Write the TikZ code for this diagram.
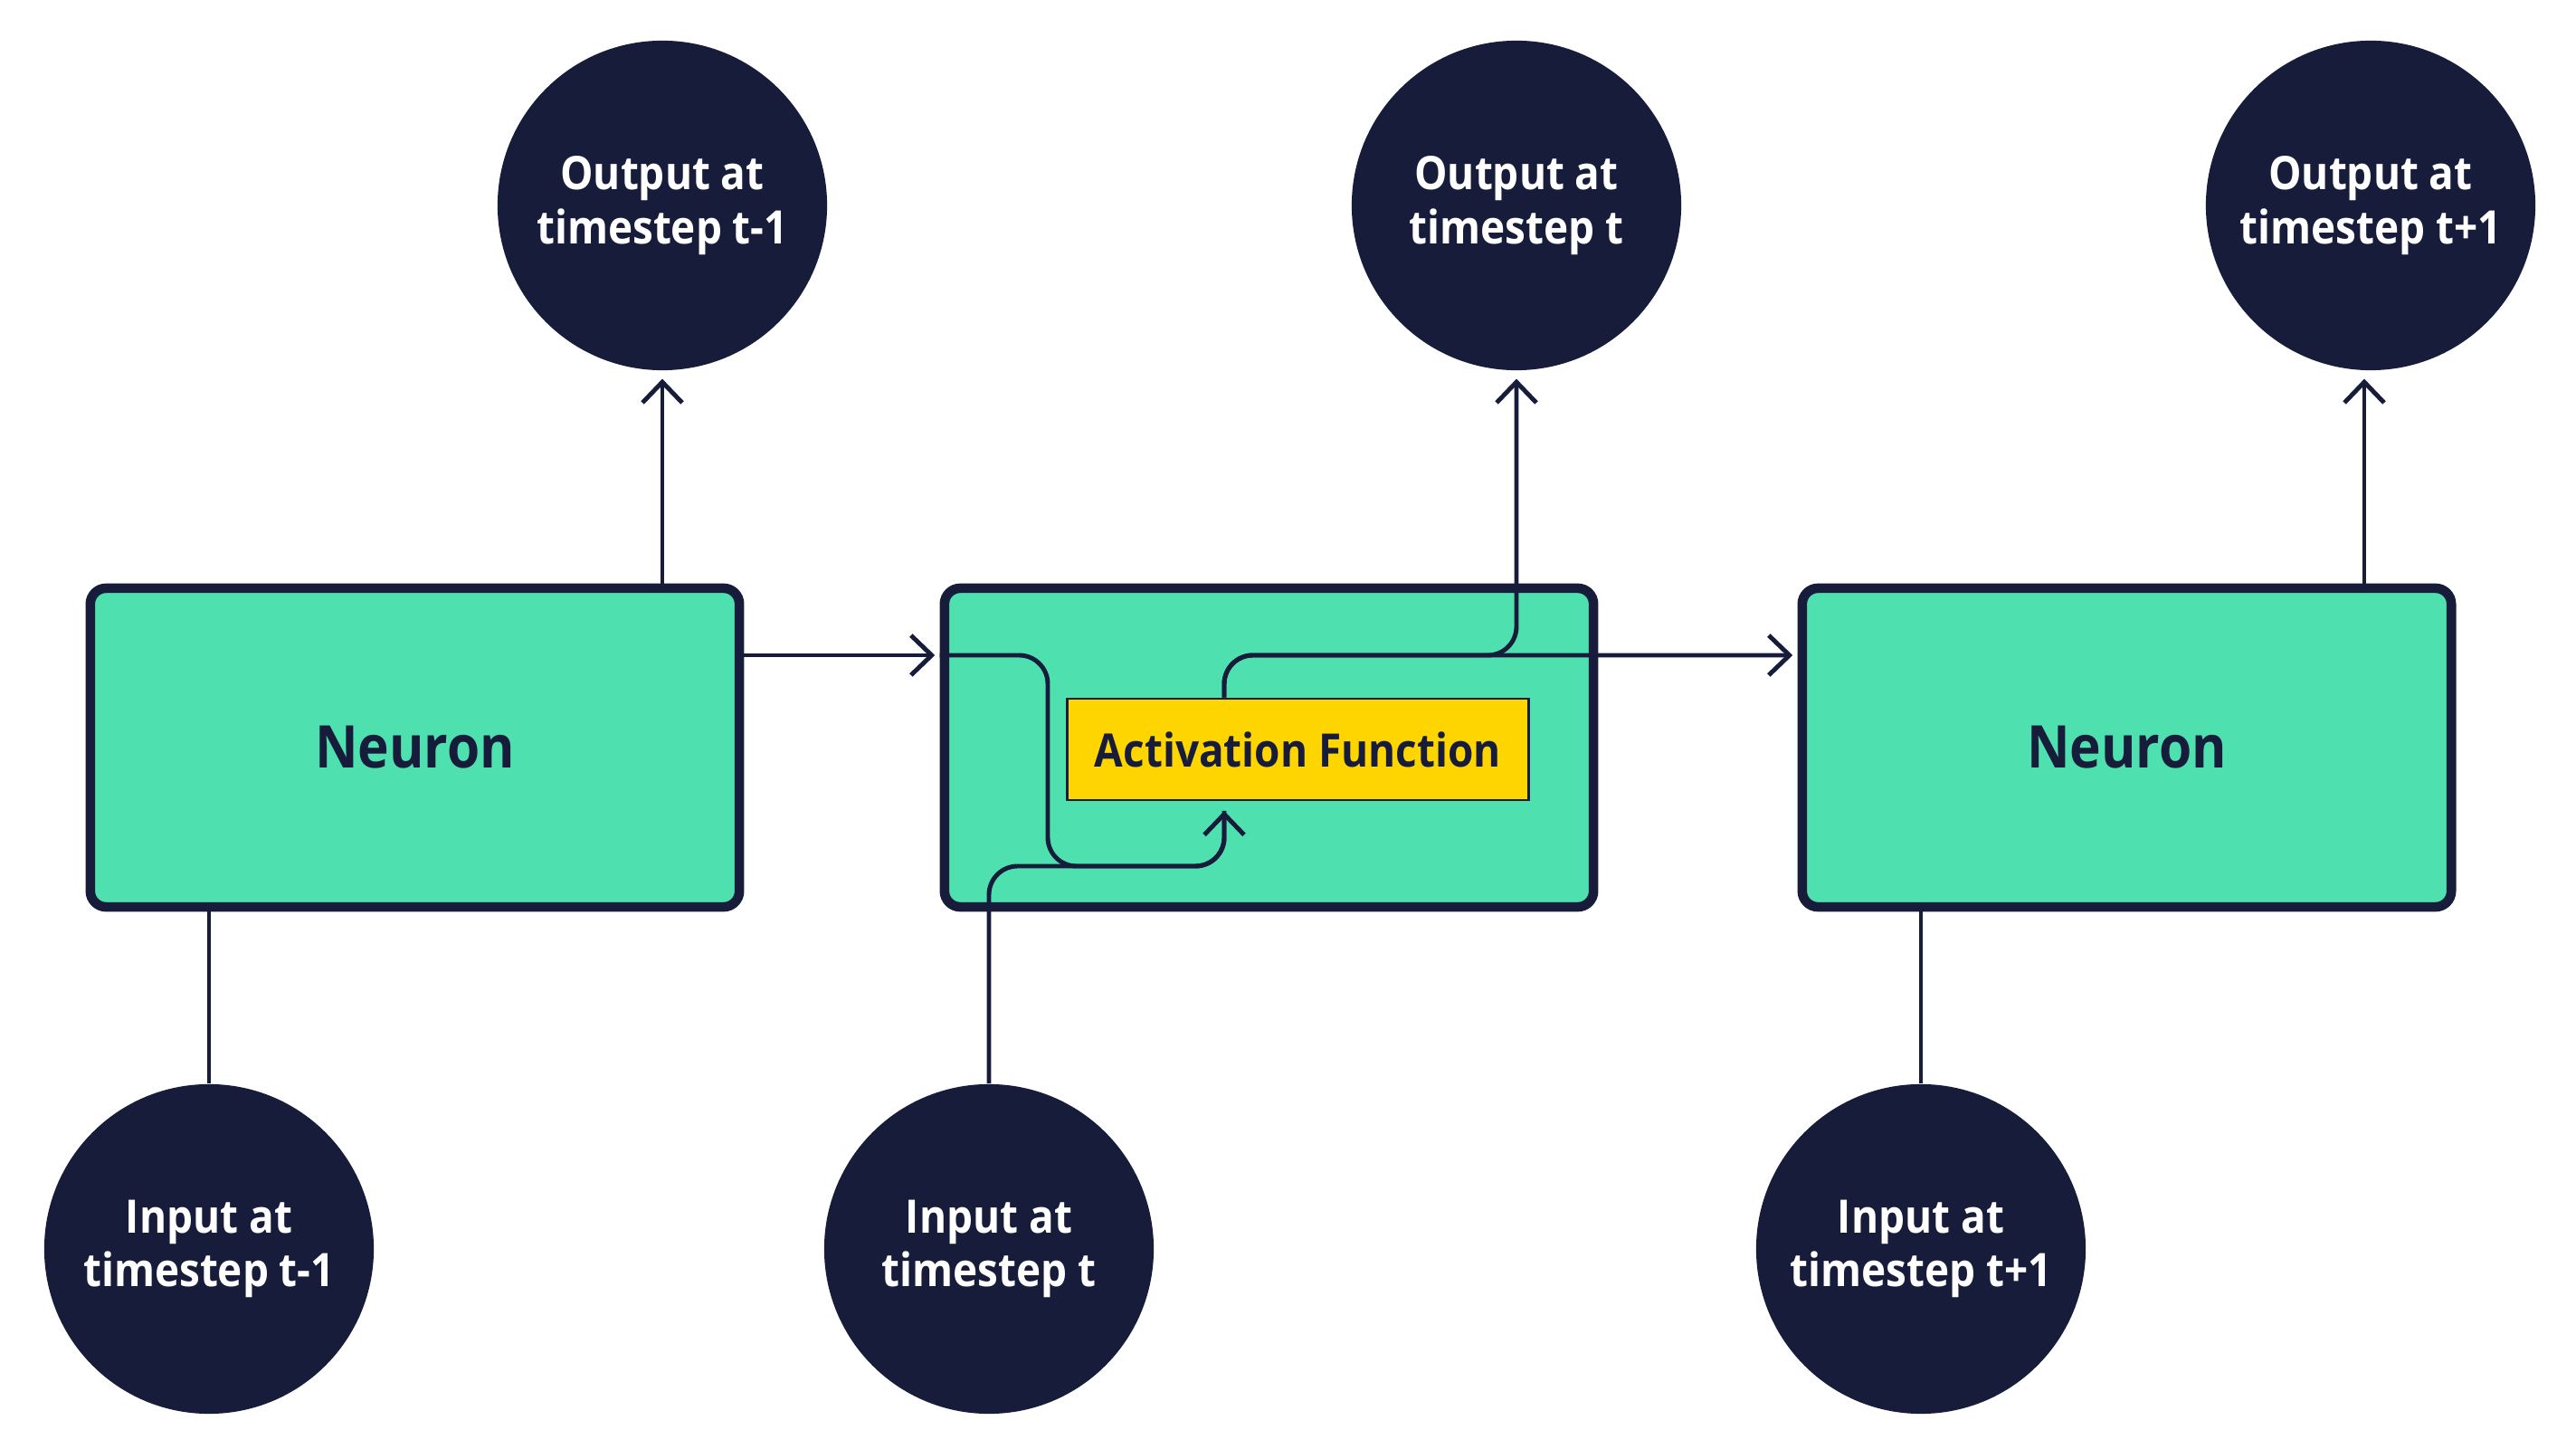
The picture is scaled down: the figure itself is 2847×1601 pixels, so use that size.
\documentclass[tikz,border=0pt]{standalone}
\usepackage{fontspec}
\setmainfont{Open Sans}
\newfontfamily\nfont{Open Sans}[FakeStretch=0.9]
\usetikzlibrary{arrows.meta}
\definecolor{navy}{HTML}{161C3A}
\definecolor{mint}{HTML}{4FE0B0}
\definecolor{gold}{HTML}{FFD500}
\begin{document}
\begin{tikzpicture}[x=0.01cm,y=-0.01cm,
  neuronbox/.style={draw=navy, line width=3pt, fill=mint, rounded corners=5pt,
    minimum width=7.17cm, minimum height=3.52cm, inner sep=0pt,
    font=\nfont\bfseries\fontsize{18.5}{22}\selectfont, text=navy},
  tcircle/.style={circle, fill=navy, minimum size=3.64cm, inner sep=0pt,
    font=\nfont\bfseries\fontsize{14.5}{17}\selectfont, text=white, align=center},
  actbox/.style={draw=navy, line width=0.8pt, fill=gold, minimum width=5.09cm,
    minimum height=1.12cm, inner sep=0pt,
    font=\nfont\bfseries\fontsize{14.5}{16}\selectfont, text=navy},
  conn/.style={draw=navy, line width=1.4pt},
  arr/.style={-{Straight Barb[length=6.5pt,width=12.5pt]}}
]
\useasboundingbox (0,0) rectangle (2847,1601);

% circles
\node[tcircle] (out1) at (732,227) {Output at\\timestep t-1};
\node[tcircle] (out2) at (1676,227) {Output at\\timestep t};
\node[tcircle] (out3) at (2620,227) {Output at\\timestep t+1};
\node[tcircle] (in1) at (231,1380) {Input at\\timestep t-1};
\node[tcircle] (in2) at (1093,1380) {Input at\\timestep t};
\node[tcircle] (in3) at (2123,1380) {Input at\\timestep t+1};

% boxes
\node[neuronbox] (box1) at (458.5,826) {Neuron};
\node[neuronbox] (box2) at (1402.5,826) {};
\node[neuronbox] (box3) at (2350.5,826) {Neuron};
\node[actbox] (act) at (1434.5,828) {Activation Function};

% helper coordinates
\coordinate (hy) at (0,724);
\coordinate (a1) at (1158,724);
\coordinate (a2) at (1158,957);
\coordinate (a3) at (1353,957);
\coordinate (b1) at (1353,724);
\coordinate (o3) at (2613,0);

% connectors
\draw[conn] (in1.north) -- (in1.north |- box1.south);
\draw[conn] (in3.north) -- (in3.north |- box3.south);
\draw[conn,arr,shorten >=2.5pt] (out1 |- box1.north) -- (out1.south);
\draw[conn,arr,shorten >=2.5pt] (o3 |- box3.north) -- (o3 |- out3.south);
\draw[conn,arr,shorten >=1.5pt] (box1.east |- hy) -- (box2.west |- hy);

\draw[conn,rounded corners=9pt,shorten >=3pt] (in2.north) -- (in2.north |- a2) -- (a3) -- (act.south -| a3);
\draw[conn,arr,rounded corners=9pt,shorten >=3pt] (box2.west |- hy) -- (a1) -- (a2) -- (a3) -- (act.south -| a3);

\draw[conn,arr,rounded corners=9pt,shorten >=1.5pt] (act.north -| b1) -- (b1) -- (box3.west |- hy);
\draw[conn,arr,rounded corners=9pt,shorten >=2.5pt] (act.north -| b1) -- (b1) -- (out2 |- hy) -- (out2.south);
\end{tikzpicture}
\end{document}
